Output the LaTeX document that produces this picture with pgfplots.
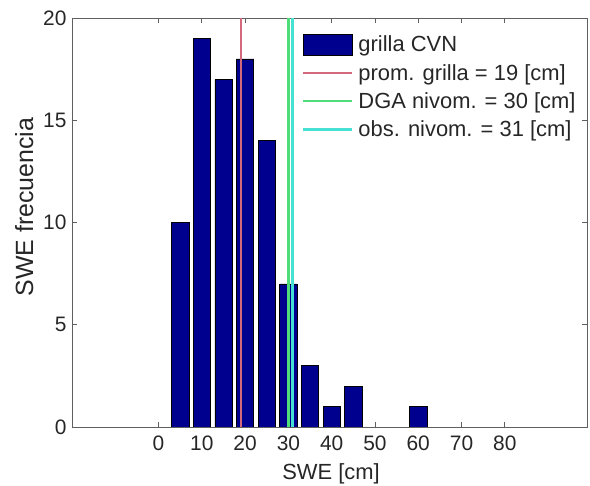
\documentclass[border=0pt]{standalone}
\usepackage{pgfplots}
\pgfplotsset{compat=1.18}
\usepackage{fontspec}
\setmainfont{Liberation Sans}
\definecolor{histblue}{RGB}{0,0,143}
\definecolor{promred}{RGB}{212,105,125}
\definecolor{dgagreen}{RGB}{80,220,120}
\definecolor{obscyan}{RGB}{70,225,210}
\definecolor{axisgray}{RGB}{95,95,95}
\pgfplotsset{
  long line legend/.style={legend image code/.code={\draw[##1] (0bp,0bp) -- (49bp,0bp);}},
  big bar legend/.style={legend image code/.code={\draw[fill=histblue, draw=black, line width=0.6bp] (0bp,-10.5bp) rectangle (49bp,10.5bp);}},
}
\begin{document}
\begin{tikzpicture}
\useasboundingbox (-72bp,-59bp) rectangle (518bp,427bp);
\begin{axis}[
  at={(0,0)}, anchor=south west,
  scale only axis, width=515bp, height=409bp,
  xmin=-20, xmax=99, ymin=0, ymax=20,
  xtick={0,10,...,80}, ytick={0,5,...,20},
  tick align=inside, major tick length=5bp,
  axis line style={draw=axisgray, line width=0.9bp},
  every tick/.style={draw=axisgray, line width=0.8bp},
  /pgf/number format/assume math mode=true,
  ticklabel style={font=\fontsize{21}{24}\selectfont, text=black!85},
  xticklabel style={anchor=center, yshift=-16bp},
  yticklabel style={anchor=east, xshift=-2bp},
  xlabel={SWE [cm]},
  ylabel={SWE frecuencia},
  label style={text=black!85},
  xlabel style={font=\fontsize{22}{26}\selectfont, at={(axis description cs:0.503,-0.114)}, anchor=center},
  ylabel style={font=\fontsize{25}{28}\selectfont, at={(axis description cs:-0.093,0.538)}, anchor=center},
  legend cell align=left,
  legend style={at={(rel axis cs:0.4466,0.962)}, anchor=north west,
    draw=none, fill=none, inner sep=0pt, outer sep=0pt,
    row sep=7bp, column sep=3bp,
    font=\fontsize{22}{26}\selectfont, text=black!85},
]
% histogram of the grid cells
\addplot[ybar, bar width=4, fill=histblue, draw=black, line width=0.6bp, big bar legend]
  coordinates {(5,10) (10,19) (15,17) (20,18) (25,14) (30,7) (35,3) (40,1) (45,2) (60,1)};
\addlegendentry{grilla CVN}
% reference values
\addplot[promred, line width=2.5bp, long line legend]
  coordinates {(19,0) (19,20)};
\addlegendentry{prom. grilla = 19 [cm]}
\addplot[dgagreen, line width=2.5bp, long line legend]
  coordinates {(30,0) (30,20)};
\addlegendentry{DGA nivom. = 30 [cm]}
\addplot[obscyan, line width=2.5bp, long line legend]
  coordinates {(31,0) (31,20)};
\addlegendentry{obs. nivom. = 31 [cm]}
\end{axis}
\end{tikzpicture}
\end{document}
